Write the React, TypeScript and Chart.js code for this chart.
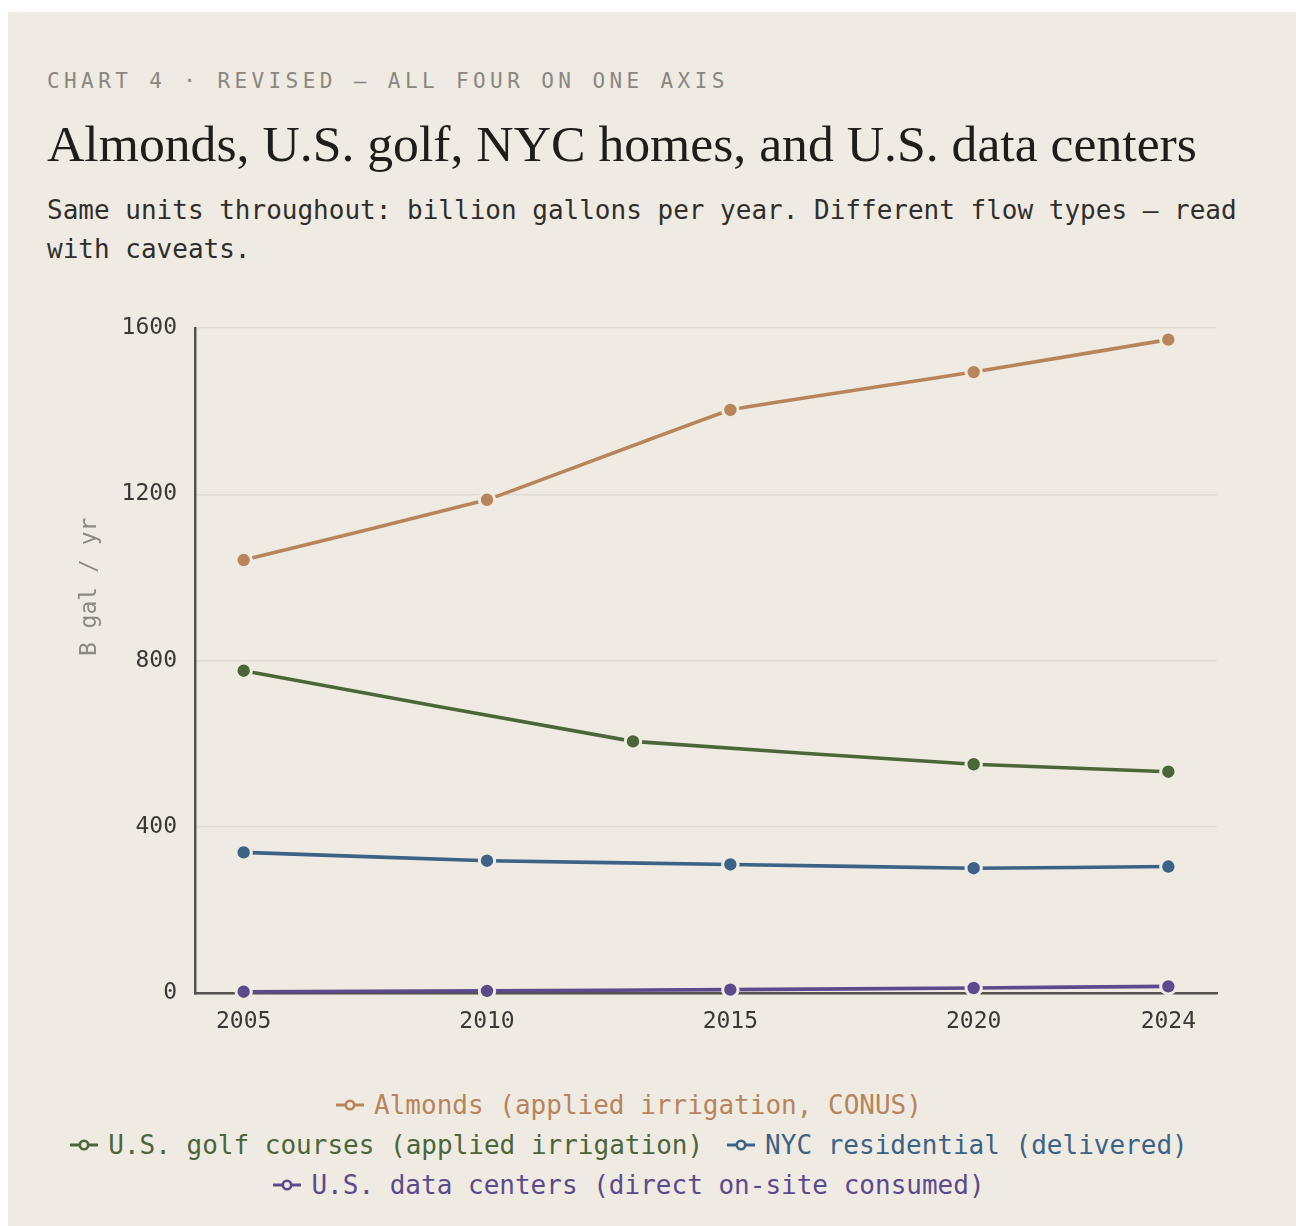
import React, { useEffect, useRef } from "react";
import { Chart, registerables } from "chart.js";

Chart.register(...registerables);

// ---- data ----
const seriesLabels = [
  "Almonds (applied irrigation, CONUS)",
  "U.S. golf courses (applied irrigation)",
  "NYC residential (delivered)",
  "U.S. data centers (direct on-site consumed)",
];
const seriesColors = ["#b8845b", "#4b6638", "#3c6286", "#5c4a8c"];

const almondYears = [2005, 2010, 2015, 2020, 2024];
const almondValues = [1042, 1187, 1403, 1494, 1572];

const golfYears = [2005, 2013, 2020, 2024];
const golfValues = [776, 606, 551, 533];

const nycYears = [2005, 2010, 2015, 2020, 2024];
const nycValues = [339, 319, 310, 301, 305];

const dcYears = [2005, 2010, 2015, 2020, 2024];
const dcValues = [4, 6, 9, 13, 17];

const xTicks = [2005, 2010, 2015, 2020, 2024];
const yTicks = [0, 400, 800, 1200, 1600];

const BG = "#efebe3";
const MONO = "'DejaVu Sans Mono', monospace";

const toPoints = (xs: number[], ys: number[]) => xs.map((x, i) => ({ x, y: ys[i] }));

const yTitlePlugin = {
  id: "yTitle",
  afterDraw(chart: any) {
    const { ctx, chartArea } = chart;
    ctx.save();
    ctx.translate(50, chartArea.top + (chartArea.bottom - chartArea.top) * 0.389);
    ctx.rotate(-Math.PI / 2);
    ctx.font = `23px ${MONO}`;
    ctx.fillStyle = "#8c8883";
    ctx.textAlign = "center";
    ctx.textBaseline = "middle";
    ctx.fillText("B gal / yr", 0, 0);
    ctx.restore();
  },
};

function LineChart() {
  const ref = useRef<HTMLCanvasElement | null>(null);
  useEffect(() => {
    if (!ref.current) return;
    const allData = [
      toPoints(almondYears, almondValues),
      toPoints(golfYears, golfValues),
      toPoints(nycYears, nycValues),
      toPoints(dcYears, dcValues),
    ];
    const chart = new Chart(ref.current, {
      type: "line",
      data: {
        datasets: allData.map((d, i) => ({
          label: seriesLabels[i],
          data: d,
          borderColor: seriesColors[i],
          backgroundColor: seriesColors[i],
          pointBackgroundColor: seriesColors[i],
          pointBorderColor: BG,
          pointBorderWidth: 3,
          pointRadius: 7.7,
          borderWidth: 3.6,
          tension: 0.05,
          clip: false as any,
        })),
      },
      options: {
        animation: false,
        responsive: false,
        maintainAspectRatio: false,
        layout: { padding: { left: 0, right: 13, top: 36, bottom: 20 } },
        plugins: {
          legend: { display: false },
          tooltip: { enabled: false },
        },
        scales: {
          x: {
            type: "linear",
            min: 2004,
            max: 2025,
            afterBuildTicks: (scale: any) => {
              scale.ticks = xTicks.map((v) => ({ value: v }));
            },
            grid: { display: false, drawTicks: false },
            border: { display: true, color: "#555250", width: 2.5 },
            ticks: {
              padding: 15,
              color: "#3a3836",
              font: { family: MONO, size: 23 },
              callback: (v: any) => String(v),
            },
          },
          y: {
            min: 0,
            max: 1600,
            afterBuildTicks: (scale: any) => {
              scale.ticks = yTicks.map((v) => ({ value: v }));
            },
            afterFit: (scale: any) => {
              scale.width = 155;
            },
            grid: { color: "#e1dcd3", lineWidth: 1.5, drawTicks: false },
            border: { display: true, color: "#555250", width: 2.5 },
            ticks: {
              padding: 18,
              color: "#3a3836",
              font: { family: MONO, size: 23 },
              callback: (v: any) => String(v),
            },
          },
        },
      },
      plugins: [yTitlePlugin],
    });
    return () => chart.destroy();
  }, []);
  return (
    <canvas
      ref={ref}
      width={1190}
      height={779}
      style={{ position: "absolute", left: 32, top: 280, width: 1190, height: 779 }}
    />
  );
}

function LegendMarker({ color }: { color: string }) {
  return (
    <svg width={28} height={14} style={{ marginRight: 10, flex: "none" }}>
      <line x1={0} y1={7} x2={28} y2={7} stroke={color} strokeWidth={3} />
      <circle cx={14} cy={7} r={4.2} fill={BG} stroke={color} strokeWidth={2.6} />
    </svg>
  );
}

export default function App() {
  return (
    <div
      style={{
        position: "fixed",
        left: 8,
        top: 12,
        right: 0,
        bottom: 0,
        background: BG,
        overflow: "hidden",
      }}
    >
      <div
        style={{
          position: "absolute",
          left: 39,
          top: 57,
          fontFamily: MONO,
          fontSize: 21,
          lineHeight: "24px",
          letterSpacing: "4.4px",
          color: "#8a8681",
          whiteSpace: "nowrap",
        }}
      >
        CHART 4 · REVISED — ALL FOUR ON ONE AXIS
      </div>
      <div
        style={{
          position: "absolute",
          left: 39,
          top: 102,
          fontFamily: "'Liberation Serif', serif",
          fontSize: 51.7,
          lineHeight: "60px",
          color: "#1e1d1c",
          whiteSpace: "nowrap",
        }}
      >
        Almonds, U.S. golf, NYC homes, and U.S. data centers
      </div>
      <div
        style={{
          position: "absolute",
          left: 39,
          top: 179,
          width: 1230,
          fontFamily: MONO,
          fontSize: 26,
          lineHeight: "39px",
          color: "#2f2e2d",
        }}
      >
        Same units throughout: billion gallons per year. Different flow types — read with caveats.
      </div>
      <LineChart />
      <div
        style={{
          position: "absolute",
          left: 39,
          top: 1073,
          width: 1164,
          display: "flex",
          flexWrap: "wrap",
          justifyContent: "center",
          columnGap: 24,
          fontFamily: MONO,
          fontSize: 26,
          lineHeight: "40px",
        }}
      >
        {seriesLabels.map((l, i) => (
          <div
            key={l}
            style={{ display: "flex", alignItems: "center", color: seriesColors[i], whiteSpace: "nowrap" }}
          >
            <LegendMarker color={seriesColors[i]} />
            <span>{l}</span>
          </div>
        ))}
      </div>
    </div>
  );
}
